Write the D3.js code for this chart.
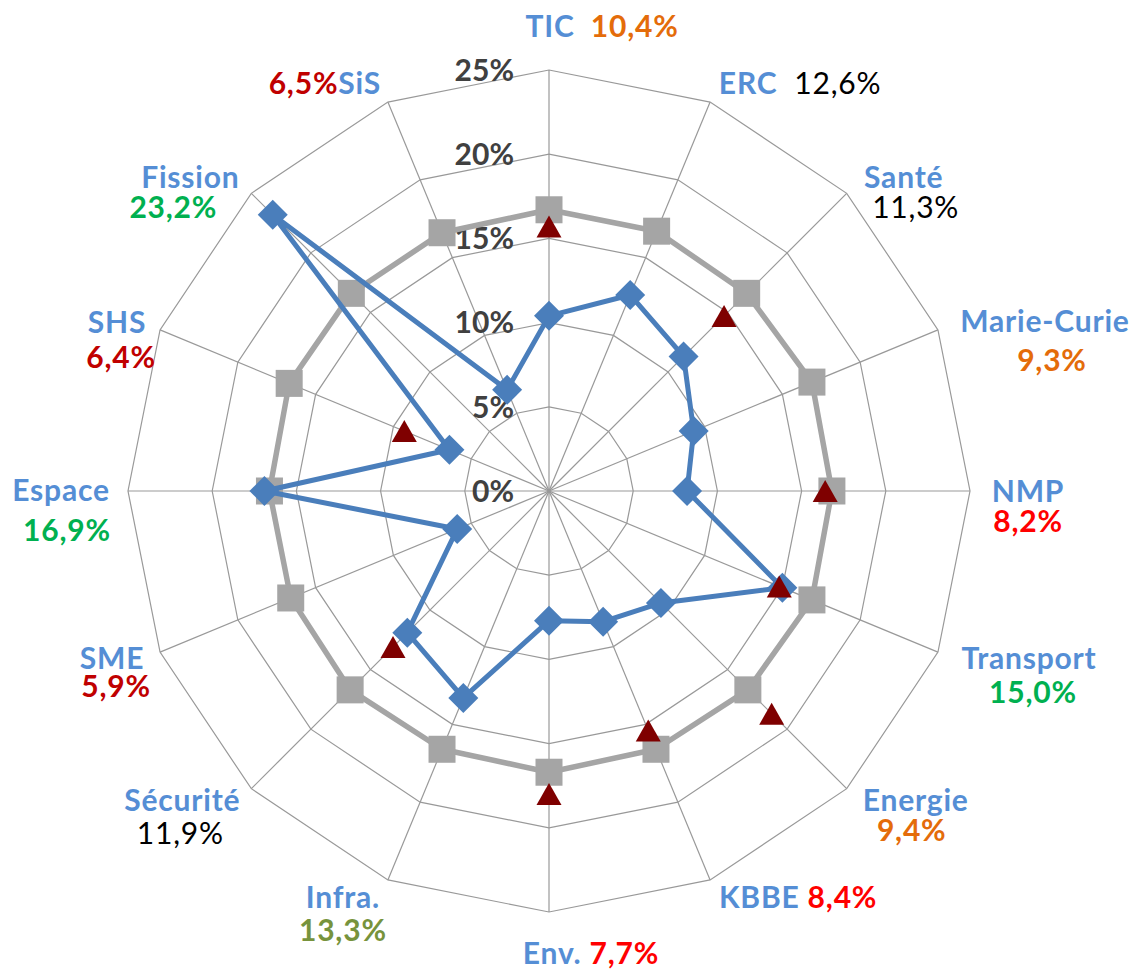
<!DOCTYPE html>
<html>
<head>
<meta charset="utf-8">
<script src="https://cdn.jsdelivr.net/npm/d3@7"></script>
<style>
   body { margin: 0; background: #ffffff; }
   #radarDiv { width: 1136px; height: 970px; }
   text { font-family: Lato, "Open Sans", sans-serif; }
</style>
</head>
<body>
<div id="radarDiv"></div>
<script>
//----------------------------------------------------------------------------------------------------
// chart data
var axisNames   = ["TIC", "ERC", "Santé", "Marie-Curie", "NMP", "Transport", "Energie", "KBBE",
                   "Env.", "Infra.", "Sécurité", "SME", "Espace", "SHS", "Fission", "SiS"];
var shareValues = [10.4, 12.6, 11.3, 9.3, 8.2, 15.0, 9.4, 8.4,
                   7.7, 13.3, 11.9, 5.9, 16.9, 6.4, 23.2, 6.5];      // blue series
var meanValues  = [16.7, 16.7, 16.6, 16.9, 16.8, 16.9, 16.7, 16.6,
                   16.7, 16.6, 16.7, 16.6, 16.6, 16.7, 16.6, 16.6]; // grey series
var refValues   = [15.7, null, 14.7, null, 16.4, 14.8, 18.7, 15.4,
                   18.0, null, 13.1, null, null, 9.3, null, null]; // dark red triangles
var tickValues  = [0, 5, 10, 15, 20, 25];

//----------------------------------------------------------------------------------------------------
// label styling (not data): colour/weight of the percentage and how name + value are laid out
var pctColors  = ["#E46C0A", "#000000", "#000000", "#E46C0A", "#FF0000", "#00B050", "#E46C0A", "#FF0000",
                  "#FF0000", "#77933C", "#000000", "#C00000", "#00B050", "#C00000", "#00B050", "#C00000"];
var labelModes = ["inline", "inline", "stack", "stack", "stack", "stack", "stack", "inline",
                  "inline", "stack", "stack", "stack", "stack", "stack", "stack", "reverse"];
var separators = ["\u00a0 ", "\u00a0 ", "", "", "", "", "", " ", " ", "", "", "", "", "", "", ""];
   // offset of the label (or of the name line, when stacked) from the 25% vertex of its spoke
var labelShift = [[53,-44], [90,-19], [57,-16], [107,-9], [58,0], [91,6], [69,12], [88,17],
                  [42,41], [-45,17], [-69,12], [-48,6], [-67,-1], [-43,-8], [-61,-16], [-63,-19]];
   // offset of the percentage line from the name line, when stacked
var pctShift   = [[0,0], [0,0], [12,30], [7,39], [0,30], [4,34], [-4,30], [0,0],
                  [0,0], [0,33], [-2,33], [4,28], [6,40], [4,35], [-17,30], [0,0]];

var cx = 549, cy = 491, outerR = 421;
var fontSize = 30;

//----------------------------------------------------------------------------------------------------
function angleOf(i)
{
   return i * 2 * Math.PI / axisNames.length;

} // angleOf
//----------------------------------------------------------------------------------------------------
function polar(i, r)
{
   var a = angleOf(i);
   return [Math.sin(a) * r, -Math.cos(a) * r];

} // polar
//----------------------------------------------------------------------------------------------------
function drawRadar()
{
   var rScale = d3.scaleLinear().domain([0, 25]).range([0, outerR]);

   var svg = d3.select("#radarDiv")
      .append("svg")
      .attr("width", 1136)
      .attr("height", 970);

   var g = svg.append("g")
      .attr("transform", "translate(" + cx + "," + cy + ")");

   var radial = d3.lineRadial()
      .angle(function(d){ return d.a; })
      .radius(function(d){ return rScale(d.v); })
      .curve(d3.curveLinearClosed);

      // rings
   g.selectAll("path.ring")
      .data(tickValues.filter(function(t){ return t > 0; }))
      .enter()
      .append("path")
      .attr("class", "ring")
      .attr("d", function(t){
         return radial(axisNames.map(function(n, i){ return {a: angleOf(i), v: t}; }));
         })
      .attr("fill", "none")
      .attr("stroke", "#999999")
      .attr("stroke-width", 1.2);

      // spokes
   g.selectAll("line.spoke")
      .data(axisNames)
      .enter()
      .append("line")
      .attr("class", "spoke")
      .attr("x1", 0).attr("y1", 0)
      .attr("x2", function(d, i){ return polar(i, rScale(25))[0]; })
      .attr("y2", function(d, i){ return polar(i, rScale(25))[1]; })
      .attr("stroke", "#999999")
      .attr("stroke-width", 1.2);

      // tick labels along the top spoke
   g.selectAll("text.tick")
      .data(tickValues)
      .enter()
      .append("text")
      .attr("class", "tick")
      .attr("x", -35)
      .attr("y", function(t){ return -rScale(t); })
      .attr("dy", "0.36em")
      .attr("text-anchor", "end")
      .attr("font-size", fontSize)
      .attr("font-weight", "bold")
      .attr("fill", "#404040")
      .text(function(t){ return t + "%"; });

   drawSeries(g, rScale, radial);
   drawLabels(svg, rScale);

} // drawRadar
//----------------------------------------------------------------------------------------------------
function drawSeries(g, rScale, radial)
{
   var meanPts = meanValues.map(function(v, i){ return {a: angleOf(i), v: v, i: i}; });
   var sharePts = shareValues.map(function(v, i){ return {a: angleOf(i), v: v, i: i}; });
   var refPts = [];
   refValues.forEach(function(v, i){
      if(v != null) refPts.push({a: angleOf(i), v: v, i: i});
      });

   g.append("path")
      .attr("d", radial(meanPts))
      .attr("fill", "none")
      .attr("stroke", "#A5A5A5")
      .attr("stroke-width", 5.5)
      .attr("stroke-linejoin", "round");

   g.selectAll("rect.mean")
      .data(meanPts)
      .enter()
      .append("rect")
      .attr("class", "mean")
      .attr("x", function(d){ return polar(d.i, rScale(d.v))[0] - 13.5; })
      .attr("y", function(d){ return polar(d.i, rScale(d.v))[1] - 13.5; })
      .attr("width", 27)
      .attr("height", 27)
      .attr("fill", "#A5A5A5");

   g.append("path")
      .attr("d", radial(sharePts))
      .attr("fill", "none")
      .attr("stroke", "#4A7EBB")
      .attr("stroke-width", 5)
      .attr("stroke-linejoin", "round");

   g.selectAll("path.share")
      .data(sharePts)
      .enter()
      .append("path")
      .attr("class", "share")
      .attr("d", "M0,-15L15,0L0,15L-15,0Z")
      .attr("transform", function(d){
         var p = polar(d.i, rScale(d.v));
         return "translate(" + p[0] + "," + p[1] + ")";
         })
      .attr("fill", "#4A7EBB");

   g.selectAll("path.ref")
      .data(refPts)
      .enter()
      .append("path")
      .attr("class", "ref")
      .attr("d", "M0,-11L12.5,11L-12.5,11Z")
      .attr("transform", function(d){
         var p = polar(d.i, rScale(d.v));
         return "translate(" + p[0] + "," + p[1] + ")";
         })
      .attr("fill", "#7F0000");

} // drawSeries
//----------------------------------------------------------------------------------------------------
function pctText(v)
{
   return v.toFixed(1).replace(".", ",") + "%";

} // pctText
//----------------------------------------------------------------------------------------------------
function drawLabels(svg, rScale)
{
   axisNames.forEach(function(name, i){
      var p = polar(i, rScale(25));
      var x = cx + p[0] + labelShift[i][0];
      var y = cy + p[1] + labelShift[i][1];
      var pctBold = pctColors[i] != "#000000";
      var mode = labelModes[i];

      if(mode == "stack"){
         svg.append("text")
            .attr("x", x).attr("y", y).attr("dy", "0.36em")
            .attr("text-anchor", "middle")
            .attr("font-size", fontSize)
            .attr("letter-spacing", 0.8)
            .attr("font-weight", "bold")
            .attr("fill", "#558ED5")
            .text(name);
         svg.append("text")
            .attr("x", x + pctShift[i][0]).attr("y", y + pctShift[i][1]).attr("dy", "0.36em")
            .attr("text-anchor", "middle")
            .attr("font-size", fontSize)
            .attr("letter-spacing", 0.8)
            .attr("font-weight", pctBold ? "bold" : "normal")
            .attr("fill", pctColors[i])
            .text(pctText(shareValues[i]));
         }
      else {
         var t = svg.append("text")
            .attr("x", x).attr("y", y).attr("dy", "0.36em")
            .attr("text-anchor", "middle")
            .attr("font-size", fontSize)
            .attr("letter-spacing", 0.8);
         var first = {text: name, color: "#558ED5", bold: true};
         var second = {text: pctText(shareValues[i]), color: pctColors[i], bold: pctBold};
         var parts = mode == "reverse" ? [second, first] : [first, second];
         parts.forEach(function(part, k){
            t.append("tspan")
               .attr("font-weight", part.bold ? "bold" : "normal")
               .attr("fill", part.color)
               .text((k == 1 ? separators[i] : "") + part.text);
            });
         }
      });

} // drawLabels
//----------------------------------------------------------------------------------------------------
drawRadar();
</script>
</body>
</html>
